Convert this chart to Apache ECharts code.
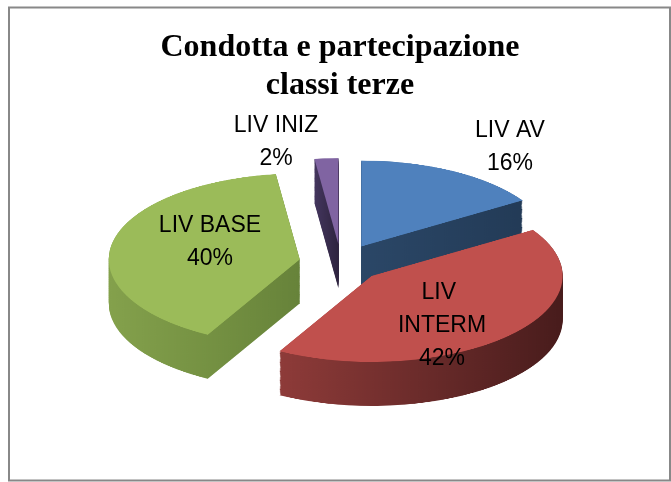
<!DOCTYPE html>
<html>
<head>
<meta charset="utf-8">
<script src="https://cdn.jsdelivr.net/npm/echarts@6/dist/echarts.min.js"></script>
<style>
  html, body { margin: 0; padding: 0; background: #ffffff; }
  #wrap { position: relative; width: 671px; height: 482px; overflow: hidden; }
  #pie { position: absolute; left: 0; top: 0; width: 671px; transform-origin: 0 0; }
  #over { position: absolute; left: 0; top: 0; width: 671px; height: 482px; pointer-events: none; }
</style>
</head>
<body>
<div id="wrap">
  <div id="pie"></div>
  <div id="over"></div>
</div>
<script>
// ---- data ----
const categories = ['LIV AV', 'LIV INTERM', 'LIV BASE', 'LIV INIZ'];
const values = [16, 42, 40, 2];
const chartTitle = 'Condotta e partecipazione\nclassi terze';

// ---- styles ----
const topColors = ['#4F81BD', '#C0504D', '#9BBB59', '#8064A2'];
const sideColors = [
  ['#2B4767', '#233B57'],
  ['#8E3B39', '#481C1C'],
  ['#84A14C', '#67833A'],
  ['#44365E', '#2E243F']
];
const squash = 0.45;           // vertical tilt of the pie
const screenCenter = [341, 263];
const radius = 191;
const depth = 44;              // screen px of the 3D side
const explode = 42;
const labelCenters = [[510, 147], [442, 326], [210, 242], [276, 142]];

// ---- pie (tilted) chart ----
const pieDiv = document.getElementById('pie');
const fullH = Math.round(482 / squash);
pieDiv.style.height = fullH + 'px';
pieDiv.style.transform = 'scaleY(' + squash + ')';
const cyU = screenCenter[1] / squash;
const depthU = depth / squash;

function makeData(colorFn) {
  return categories.map((c, i) => ({
    name: c,
    value: values[i],
    selected: true,
    itemStyle: { color: colorFn(i) }
  }));
}
function pieSeries(cy, colorFn) {
  return {
    type: 'pie',
    silent: true,
    animation: false,
    center: [screenCenter[0], cy],
    radius: [0, radius],
    startAngle: 90,
    clockwise: true,
    selectedMode: 'multiple',
    selectedOffset: explode,
    label: { show: false },
    labelLine: { show: false },
    emphasis: { disabled: true },
    select: { itemStyle: {} },
    itemStyle: { borderWidth: 0 },
    data: makeData(colorFn)
  };
}
const series = [];
for (let k = depthU; k > 0; k -= 2.5) {
  series.push(pieSeries(cyU + k, i => ({
    type: 'linear', x: 0, y: 0, x2: 1, y2: 0,
    colorStops: [{ offset: 0, color: sideColors[i][0] }, { offset: 1, color: sideColors[i][1] }]
  })));
}
series.push(pieSeries(cyU, i => topColors[i]));

const pieChart = echarts.init(pieDiv, null, { renderer: 'canvas' });
pieChart.setOption({ animation: false, series: series });

// ---- overlay: title, labels, frame ----
const over = echarts.init(document.getElementById('over'), null, { renderer: 'canvas' });
over.setOption({
  animation: false,
  title: {
    text: chartTitle,
    left: 340,
    top: 29,
    padding: 0,
    textAlign: 'center',
    textStyle: {
      fontFamily: 'Liberation Serif',
      fontWeight: 'bold',
      fontSize: 32,
      lineHeight: 38,
      color: '#000000'
    }
  },
  graphic: [{
    type: 'rect',
    shape: { x: 9, y: 7.5, width: 661, height: 473 },
    style: { fill: 'none', stroke: '#888888', lineWidth: 2 },
    silent: true
  }],
  series: [{
    type: 'pie',
    silent: true,
    center: screenCenter,
    radius: [0, radius],
    startAngle: 90,
    percentPrecision: 0,
    avoidLabelOverlap: false,
    itemStyle: { color: 'rgba(0,0,0,0)' },
    emphasis: { disabled: true },
    label: {
      show: true,
      position: 'inside',
      formatter: '{b}\n{d}%',
      fontFamily: 'Liberation Sans',
      fontSize: 23,
      lineHeight: 33,
      color: '#000000',
      align: 'center'
    },
    labelLine: { show: false },
    labelLayout: function (p) {
      const c = labelCenters[p.dataIndex];
      return { x: c[0], y: c[1], align: 'center', verticalAlign: 'middle' };
    },
    data: categories.map((c, i) => ({
      name: c,
      value: values[i],
      label: i === 1 ? { width: 92, overflow: 'break' } : {}
    }))
  }]
});
</script>
</body>
</html>
